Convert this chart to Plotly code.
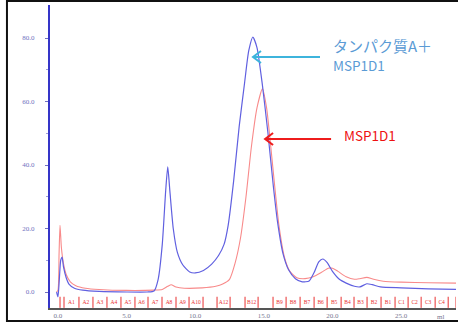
import plotly.graph_objects as go

# ---------------- data ----------------
blue_x = [-0.1, 0.0, 0.1, 0.2, 0.3, 0.4, 0.6, 0.8, 1.2, 1.8, 3.0, 5.0, 6.5, 7.0, 7.3, 7.6, 7.85, 8.0, 8.15,
          8.4, 8.7, 9.1, 9.6, 10.0, 10.6, 11.2, 11.7, 12.1, 12.4, 12.8, 13.2, 13.6, 13.9, 14.2, 14.5, 14.9,
          15.3, 15.7, 16.0, 16.4, 16.8, 17.3, 17.8, 18.3, 18.7, 19.0, 19.3, 19.6, 20.0, 20.5, 21.0, 21.6,
          22.0, 22.5, 22.9, 23.5, 25.0, 27.0, 29.0]
blue_y = [0, -1.5, 4, 10, 11, 8, 4.5, 2.5, 1.2, 0.6, 0.2, 0, 0, 0.3, 4, 15, 32, 39.4, 32,
          20, 12.5, 8.5, 6.3, 6, 6.8, 8.8, 11.5, 15, 21, 35, 52, 66, 76, 80.3, 77, 65,
          50, 33, 22, 12, 7, 4.2, 3.2, 3.5, 6.5, 9.5, 10.4, 9.3, 6.5, 4, 2.8, 1.8,
          1.6, 2.6, 2.3, 1.6, 1.3, 1.0, 0.8]

red_x = [-0.1, 0.0, 0.08, 0.15, 0.25, 0.4, 0.6, 0.9, 1.3, 2.0, 3.0, 5.0, 7.0, 7.6, 8.0, 8.25, 8.6, 9.2,
         10.5, 11.5, 12.0, 12.5, 12.9, 13.3, 13.7, 14.1, 14.5, 14.9, 15.2, 15.5, 15.8, 16.1, 16.5, 16.9,
         17.4, 18.0, 18.6, 19.2, 19.7, 20.0, 20.4, 21.0, 21.6, 22.0, 22.5, 23.0, 23.7, 25.0, 27.0, 29.0]
red_y = [0, 0.5, 12, 21, 14, 9, 5.5, 3.2, 2, 1.2, 0.8, 0.5, 0.6, 0.8, 1.8, 2.3, 1.6, 1.2,
         1.3, 1.8, 2.5, 4, 9, 17, 30, 46, 58, 64, 58, 46, 33, 21, 11, 6.5,
         4.5, 4.2, 4.8, 6.2, 7.5, 7.5, 6.5, 4.8, 4.0, 4.2, 4.6, 4.0, 3.4, 3.1, 2.9, 2.8]

frac_pos = [0.15, 0.44, 1.53, 2.55, 3.57, 4.59, 5.61, 6.56, 7.58, 8.60, 9.55, 10.57, 11.59, 12.54,
            13.63, 14.58, 15.67, 16.62, 17.64, 18.66, 19.61, 20.63, 21.57, 22.52, 23.54, 24.56,
            25.51, 26.46, 27.48, 28.43, 29.0]
frac_labels = ["", "A1", "A2", "A3", "A4", "A5", "A6", "A7", "A8", "A9", "A10", "", "A12", "",
               "B12", "", "B9", "B8", "B7", "B6", "B5", "B4", "B3", "B2", "B1", "C1",
               "C2", "C3", "C4", ""]

x_ticks = [0, 5, 10, 15, 20, 25]
x_ticktext = ["0.0", "5.0", "10.0", "15.0", "20.0", "25.0"]

# ---------------- figure ----------------
fig = go.Figure()

# fraction markers
fx, fy = [], []
for p in frac_pos:
    fx += [p, p, None]
    fy += [-5.0, -1.5, None]
fig.add_trace(go.Scatter(x=fx, y=fy, mode="lines", line=dict(color="#e83030", width=1),
                         hoverinfo="skip", showlegend=False))
lab_x, lab_t = [], []
for i, t in enumerate(frac_labels):
    if t:
        lab_x.append((frac_pos[i] + frac_pos[i + 1]) / 2)
        lab_t.append(t)
fig.add_trace(go.Scatter(x=lab_x, y=[-3.2] * len(lab_x), mode="text", text=lab_t,
                         textfont=dict(family="Liberation Serif", size=5.5, color="#e83030"),
                         hoverinfo="skip", showlegend=False))

fig.add_trace(go.Scatter(x=red_x, y=red_y, mode="lines",
                         line=dict(color="#f88a8a", width=1.1, shape="spline", smoothing=0.6),
                         showlegend=False))
fig.add_trace(go.Scatter(x=blue_x, y=blue_y, mode="lines",
                         line=dict(color="#6060e0", width=1.2, shape="spline", smoothing=0.6),
                         showlegend=False))

tickfont = dict(family="Liberation Serif", size=7, color="#7070c0")

fig.update_layout(
    width=458, height=325,
    margin=dict(l=50, r=2, t=5, b=17),
    paper_bgcolor="white", plot_bgcolor="white",
    xaxis=dict(range=[-0.58, 29.0], showgrid=False, zeroline=False,
               showline=True, linecolor="#555555", linewidth=2,
               tickvals=x_ticks, ticktext=x_ticktext, ticks="",
               tickfont=dict(family="Liberation Serif", size=7, color="#777790")),
    yaxis=dict(range=[-5.04, 90.4], showgrid=False, zeroline=False,
               showline=True, linecolor="#3535c8", linewidth=2,
               tickvals=[0, 20, 40, 60, 80], tickformat=".1f",
               ticks="outside", ticklen=3, tickcolor="#7070c0",
               ticklabelstandoff=9, tickfont=tickfont,
               minor=dict(tickvals=[10, 30, 50, 70], ticks="outside", ticklen=2, tickcolor="#a0a0d8")),
)

# outer frame
fig.add_shape(type="rect", xref="paper", yref="paper",
              x0=-0.106, x1=1.01, y0=-0.0429, y1=1.0132,
              line=dict(color="#111111", width=2), fillcolor="rgba(0,0,0,0)", layer="below")

# arrows (open chevron heads)
fig.add_shape(type="path", xref="x", yref="y", xsizemode="pixel", ysizemode="pixel",
              xanchor=14.21, yanchor=74.0,
              path="M0,0 L67,0 M8,-6 L0,0 L8,6",
              line=dict(color="#3db4dc", width=2))
fig.add_shape(type="path", xref="x", yref="y", xsizemode="pixel", ysizemode="pixel",
              xanchor=15.09, yanchor=48.2,
              path="M0,0 L66,0 M8,-6 L0,0 L8,6",
              line=dict(color="#ee1c1c", width=2))

# text annotations
fig.add_annotation(x=19.9, y=77.8, xref="x", yref="y", xanchor="left", yanchor="middle",
                   text="タンパク質A＋", showarrow=False,
                   font=dict(family="Noto Sans CJK JP", size=15, color="#5b9bd5"))
fig.add_annotation(x=19.9, y=71.5, xref="x", yref="y", xanchor="left", yanchor="middle",
                   text="MSP1D1", showarrow=False,
                   font=dict(family="Noto Sans CJK JP", size=13.5, color="#5b9bd5"))
fig.add_annotation(x=20.7, y=49.4, xref="x", yref="y", xanchor="left", yanchor="middle",
                   text="MSP1D1", showarrow=False,
                   font=dict(family="Noto Sans CJK JP", size=13.5, color="#ee1111"))
fig.add_annotation(x=-0.6, y=88.8, xref="x", yref="y", xanchor="right", yanchor="middle",
                   xshift=-12, text="mAU", showarrow=False,
                   font=dict(family="Liberation Serif", size=6, color="#7070c0"))
fig.add_annotation(x=27.9, y=-5.04, xref="x", yref="y", xanchor="center", yanchor="top",
                   yshift=-3, text="ml", showarrow=False,
                   font=dict(family="Liberation Serif", size=7, color="#777790"))

fig.write_html("out.html", config={"displayModeBar": False},
               post_script="document.body.style.margin='0px';document.body.style.padding='0px';")
